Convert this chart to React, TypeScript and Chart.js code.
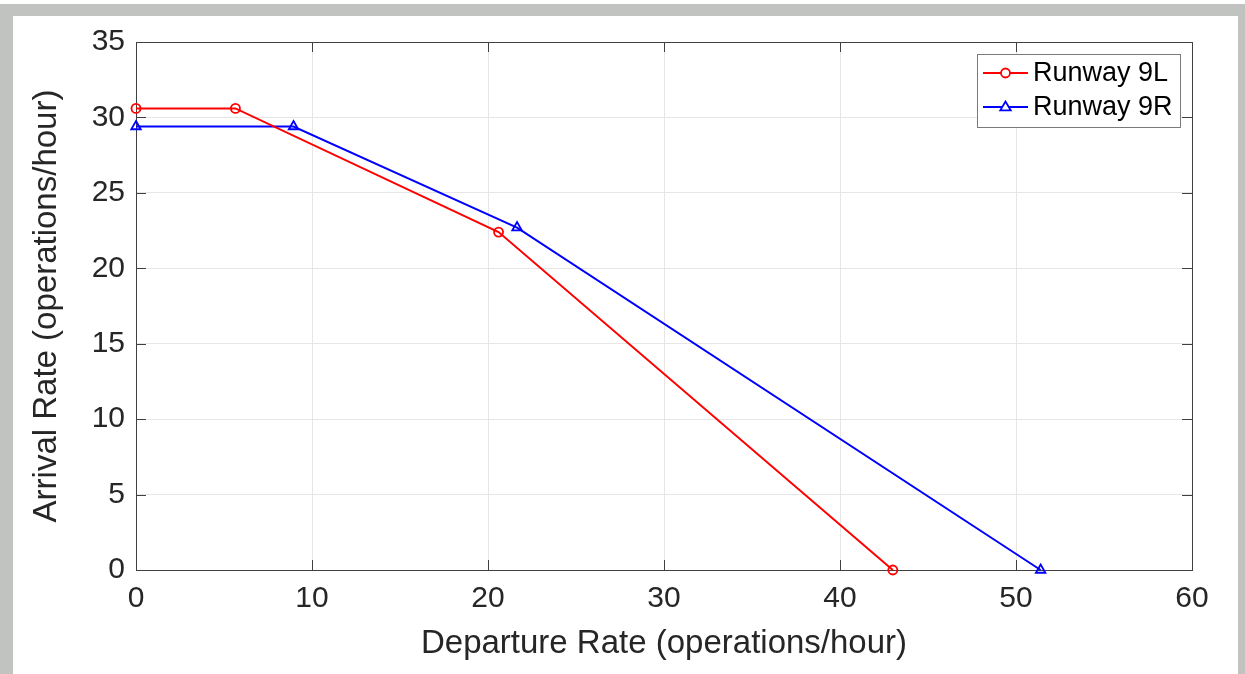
import React, { useEffect, useRef } from "react";
import { Chart, registerables } from "chart.js";

Chart.register(...registerables);

const seriesNames = ["Runway 9L", "Runway 9R"];
const departure9L = [0, 5.65, 20.6, 43.0];
const arrival9L = [30.6, 30.6, 22.4, 0];
const departure9R = [0, 8.95, 21.65, 51.4];
const arrival9R = [29.4, 29.4, 22.7, 0];
const xTicks = [0, 10, 20, 30, 40, 50, 60];
const yTicks = [0, 5, 10, 15, 20, 25, 30, 35];
const xTitle = "Departure Rate (operations/hour)";
const yTitle = "Arrival Rate (operations/hour)";

const RED = "#ff0000";
const BLUE = "#0000ff";
const TEXT = "#262626";
const FONT = "'Liberation Sans', Arial, Helvetica, sans-serif";

const boxPlugin = {
  id: "matlabBox",
  beforeDatasetsDraw(chart: any) {
    const { ctx, chartArea } = chart;
    const { left, right, top, bottom } = chartArea;
    const xs = chart.scales.x;
    const ys = chart.scales.y;
    ctx.save();
    ctx.strokeStyle = "#404040";
    ctx.lineWidth = 1;
    ctx.beginPath();
    xTicks.forEach((t) => {
      const x = Math.round(xs.getPixelForValue(t)) + 0.5;
      ctx.moveTo(x, bottom);
      ctx.lineTo(x, bottom - 10);
      ctx.moveTo(x, top);
      ctx.lineTo(x, top + 10);
    });
    yTicks.forEach((t) => {
      const y = Math.round(ys.getPixelForValue(t)) + 0.5;
      ctx.moveTo(left, y);
      ctx.lineTo(left + 10, y);
      ctx.moveTo(right, y);
      ctx.lineTo(right - 10, y);
    });
    ctx.stroke();
    ctx.strokeStyle = "#404040";
    ctx.strokeRect(Math.round(left) + 0.5, Math.round(top) + 0.5, Math.round(right - left), Math.round(bottom - top));
    ctx.restore();
  },
};

function drawMarker(ctx: CanvasRenderingContext2D, kind: string, x: number, y: number, color: string) {
  ctx.save();
  ctx.strokeStyle = color;
  ctx.fillStyle = "#ffffff";
  ctx.lineWidth = 1.8;
  ctx.beginPath();
  if (kind === "circle") {
    ctx.arc(x, y, 4.5, 0, Math.PI * 2);
  } else {
    const r = 5.5;
    ctx.moveTo(x, y - r);
    ctx.lineTo(x + r * 0.95, y + r * 0.6);
    ctx.lineTo(x - r * 0.95, y + r * 0.6);
    ctx.closePath();
  }
  ctx.fill();
  ctx.stroke();
  ctx.restore();
}

const legendPlugin = {
  id: "matlabLegend",
  afterDraw(chart: any) {
    const { ctx } = chart;
    const bx = 977.5, by = 54.5, bw = 203, bh = 73;
    ctx.save();
    ctx.fillStyle = "#ffffff";
    ctx.fillRect(bx, by, bw, bh);
    ctx.strokeStyle = "#7a7a7a";
    ctx.lineWidth = 1;
    ctx.strokeRect(bx, by, bw, bh);
    const rows = [
      { name: seriesNames[0], color: RED, kind: "circle", y: 73 },
      { name: seriesNames[1], color: BLUE, kind: "triangle", y: 107 },
    ];
    rows.forEach((r) => {
      ctx.strokeStyle = r.color;
      ctx.lineWidth = 2;
      ctx.beginPath();
      ctx.moveTo(983, r.y);
      ctx.lineTo(1028, r.y);
      ctx.stroke();
      drawMarker(ctx, r.kind, 1005.5, r.y, r.color);
      ctx.fillStyle = "#000000";
      ctx.font = `27px ${FONT}`;
      ctx.textBaseline = "middle";
      ctx.textAlign = "left";
      ctx.fillText(r.name, 1033, r.y + 1);
    });
    ctx.restore();
  },
};

export default function App() {
  const canvasRef = useRef<HTMLCanvasElement | null>(null);

  useEffect(() => {
    if (!canvasRef.current) return;
    const chart = new Chart(canvasRef.current, {
      type: "scatter",
      data: {
        datasets: [
          {
            label: seriesNames[0],
            data: departure9L.map((x, i) => ({ x, y: arrival9L[i] })),
            showLine: true,
            borderColor: RED,
            backgroundColor: "#ffffff",
            borderWidth: 2,
            pointStyle: "circle",
            pointRadius: 4.5,
            pointBorderWidth: 1.8,
            pointBorderColor: RED,
            pointBackgroundColor: "rgba(255,255,255,0)",
            clip: false,
          } as any,
          {
            label: seriesNames[1],
            data: departure9R.map((x, i) => ({ x, y: arrival9R[i] })),
            showLine: true,
            borderColor: BLUE,
            backgroundColor: "#ffffff",
            borderWidth: 2,
            pointStyle: "triangle",
            pointRadius: 5.5,
            pointBorderWidth: 1.8,
            pointBorderColor: BLUE,
            pointBackgroundColor: "rgba(255,255,255,0)",
            clip: false,
          } as any,
        ],
      },
      options: {
        responsive: false,
        animation: false,
        layout: { padding: { top: 42, right: 53, left: 0, bottom: 0 } },
        plugins: {
          legend: { display: false },
          tooltip: { enabled: false },
        },
        scales: {
          x: {
            type: "linear",
            min: 0,
            max: 60,
            afterBuildTicks: (scale: any) => {
              scale.ticks = xTicks.map((v) => ({ value: v }));
            },
            afterFit: (scale: any) => {
              scale.height = 104;
            },
            grid: { color: "#e6e6e6", lineWidth: 1, drawTicks: false },
            border: { display: false },
            ticks: {
              padding: 11,
              color: TEXT,
              font: { family: FONT, size: 30 },
              maxRotation: 0,
            },
            title: {
              display: true,
              text: xTitle,
              color: TEXT,
              font: { family: FONT, size: 33 },
              padding: { top: 0, bottom: 10 },
            },
          },
          y: {
            type: "linear",
            min: 0,
            max: 35,
            afterBuildTicks: (scale: any) => {
              scale.ticks = yTicks.map((v) => ({ value: v }));
            },
            afterFit: (scale: any) => {
              scale.width = 136;
            },
            grid: { color: "#e6e6e6", lineWidth: 1, drawTicks: false },
            border: { display: false },
            ticks: {
              padding: 11,
              color: TEXT,
              font: { family: FONT, size: 30 },
            },
            title: {
              display: true,
              text: yTitle,
              color: TEXT,
              font: { family: FONT, size: 33 },
              padding: { top: 27, bottom: 0 },
            },
          },
        },
      },
      plugins: [boxPlugin, legendPlugin],
    } as any);
    return () => chart.destroy();
  }, []);

  const band = "#c1c3c1";
  return (
    <div style={{ position: "fixed", left: 0, top: 0, width: 1245, height: 674, background: "#ffffff", overflow: "hidden" }}>
      <canvas ref={canvasRef} width={1245} height={674} style={{ position: "absolute", left: 0, top: 0, display: "block" }} />
      <div style={{ position: "absolute", left: 0, top: 4, width: 1245, height: 12, background: band }} />
      <div style={{ position: "absolute", left: 0, top: 4, width: 13, height: 670, background: band }} />
      <div style={{ position: "absolute", left: 1238, top: 4, width: 7, height: 670, background: band }} />
    </div>
  );
}
